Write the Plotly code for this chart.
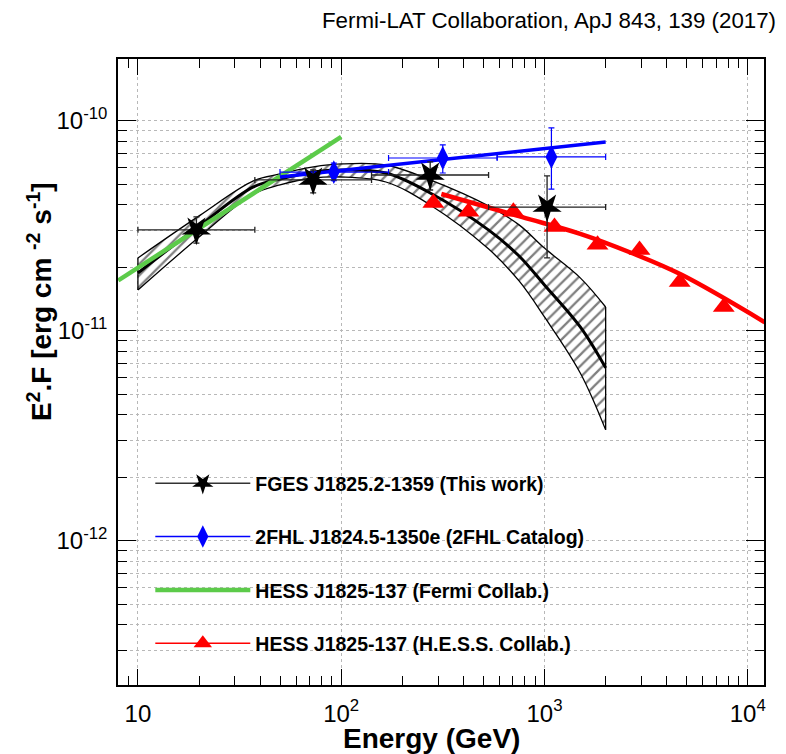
import plotly.graph_objects as go

# ---------------- data ----------------
# FGES J1825.2-1359 (this work): SED points
fges_E = [19.4, 72.8, 274, 1030]
fges_Elo = [10, 37.6, 141, 531]
fges_Ehi = [37.6, 141, 531, 2000]
fges_F = [3.03e-11, 5.24e-11, 5.53e-11, 3.89e-11]
fges_Fhi = [3.49e-11, 5.85e-11, 6.38e-11, 5.47e-11]
fges_Flo = [2.62e-11, 4.54e-11, 4.69e-11, 2.23e-11]

# FGES best-fit log-parabola and its error band
band_E = [10, 20, 37, 50, 73, 100, 166, 274, 530, 750, 1000, 1500, 2000]
band_mid = [1.888e-11, 3.16e-11, 4.85e-11, 5.29e-11, 5.72e-11, 5.84e-11, 5.65e-11, 4.54e-11,
            3.03e-11, 2.275e-11, 1.656e-11, 1.045e-11, 6.67e-12]
band_hi = [2.226e-11, 3.53e-11, 5.18e-11, 5.59e-11, 6.04e-11, 6.24e-11, 6.17e-11, 5.24e-11,
           3.94e-11, 3.20e-11, 2.48e-11, 1.79e-11, 1.30e-11]
band_lo = [1.567e-11, 2.80e-11, 4.49e-11, 4.96e-11, 5.35e-11, 5.41e-11, 5.12e-11, 3.98e-11,
           2.46e-11, 1.73e-11, 1.166e-11, 6.31e-12, 3.38e-12]

# 2FHL J1824.5-1350e
fhl_E = [92, 316, 1082]
fhl_Elo = [50, 171, 585]
fhl_Ehi = [171, 585, 2000]
fhl_F = [5.71e-11, 6.66e-11, 6.74e-11]
fhl_Fhi = [6.30e-11, 7.69e-11, 9.26e-11]
fhl_Flo = [5.20e-11, 5.65e-11, 4.74e-11]
fhlfit_E = [50, 2000]
fhlfit_F = [5.41e-11, 7.94e-11]

# HESS J1825-137 (Fermi Collab.) power law
fermi_E = [8, 100]
fermi_F = [1.74e-11, 8.40e-11]

# HESS J1825-137 (H.E.S.S. Collab.)
hess_E = [284, 423, 703, 1120, 1824, 2936, 4627, 7620]
hess_F = [4.07e-11, 3.69e-11, 3.69e-11, 3.13e-11, 2.57e-11, 2.43e-11, 1.71e-11, 1.30e-11]
hessfit_E = [311, 771, 1500, 2685, 4732, 12130]
hessfit_F = [4.49e-11, 3.49e-11, 2.90e-11, 2.35e-11, 1.85e-11, 1.10e-11]

legend_names = [
    "FGES J1825.2-1359 (This work)",
    "2FHL J1824.5-1350e (2FHL Catalog)",
    "HESS J1825-137 (Fermi Collab.)",
    "HESS J1825-137 (H.E.S.S. Collab.)",
]

x_ticks = [10, 100, 1000, 10000]
x_ticktext = ["10", "10<sup>2</sup>", "10<sup>3</sup>", "10<sup>4</sup>"]
y_ticks = [1e-12, 1e-11, 1e-10]
y_ticktext = ["10<sup>-12</sup>", "10<sup>-11</sup>", "10<sup>-10</sup>"]

BLACK = "#000000"
BLUE = "#0000ff"
GREEN = "#5ccb4a"
RED = "#ff0000"
FONT = "Liberation Sans, Arial, Helvetica, sans-serif"

fig = go.Figure()

# ---- hatched error band ----
fig.add_trace(go.Scatter(x=band_E, y=band_lo, mode="lines", line=dict(color=BLACK, width=1.3, shape="spline"),
                         showlegend=False, hoverinfo="skip"))
fig.add_trace(go.Scatter(x=band_E, y=band_hi, mode="lines", line=dict(color=BLACK, width=1.3, shape="spline"),
                         fill="tonexty", fillcolor="rgba(0,0,0,0)",
                         fillpattern=dict(shape="/", fgcolor=BLACK, bgcolor="white", size=8, solidity=0.28),
                         showlegend=False, hoverinfo="skip"))
for i in (0, len(band_E) - 1):
    fig.add_trace(go.Scatter(x=[band_E[i], band_E[i]], y=[band_lo[i], band_hi[i]], mode="lines",
                             line=dict(color=BLACK, width=1.3), showlegend=False, hoverinfo="skip"))
fig.add_trace(go.Scatter(x=band_E, y=band_mid, mode="lines", line=dict(color=BLACK, width=3, shape="spline"),
                         showlegend=False, hoverinfo="skip"))

# ---- model lines ----
fig.add_trace(go.Scatter(x=fermi_E, y=fermi_F, mode="lines", line=dict(color=GREEN, width=4.5),
                         showlegend=False))
fig.add_trace(go.Scatter(x=fhlfit_E, y=fhlfit_F, mode="lines", line=dict(color=BLUE, width=3.5),
                         showlegend=False))
fig.add_trace(go.Scatter(x=hessfit_E, y=hessfit_F, mode="lines", line=dict(color=RED, width=4.5, shape="spline"),
                         showlegend=False))

# ---- data points ----
fig.add_trace(go.Scatter(
    x=hess_E, y=hess_F, mode="markers",
    marker=dict(symbol="triangle-up", size=19, color=RED, line=dict(width=0)),
    showlegend=False))
fig.add_trace(go.Scatter(
    x=fhl_E, y=fhl_F, mode="markers",
    marker=dict(symbol="diamond-tall", size=17, color=BLUE, line=dict(width=0)),
    error_x=dict(type="data", symmetric=False,
                 array=[h - e for h, e in zip(fhl_Ehi, fhl_E)],
                 arrayminus=[e - l for e, l in zip(fhl_E, fhl_Elo)],
                 color=BLUE, thickness=1.2, width=3),
    error_y=dict(type="data", symmetric=False,
                 array=[h - f for h, f in zip(fhl_Fhi, fhl_F)],
                 arrayminus=[f - l for f, l in zip(fhl_F, fhl_Flo)],
                 color=BLUE, thickness=1.2, width=3),
    showlegend=False))
fig.add_trace(go.Scatter(
    x=fges_E, y=fges_F, mode="markers",
    marker=dict(symbol="star", size=22, angle=180, color=BLACK, line=dict(width=0)),
    error_x=dict(type="data", symmetric=False,
                 array=[h - e for h, e in zip(fges_Ehi, fges_E)],
                 arrayminus=[e - l for e, l in zip(fges_E, fges_Elo)],
                 color="#222222", thickness=1.3, width=3),
    error_y=dict(type="data", symmetric=False,
                 array=[h - f for h, f in zip(fges_Fhi, fges_F)],
                 arrayminus=[f - l for f, l in zip(fges_F, fges_Flo)],
                 color="#222222", thickness=1.3, width=3),
    showlegend=False))

# ---- legend entries ----
leg_styles = [
    dict(mode="lines+markers", line=dict(color="#333333", width=1.5),
         marker=dict(symbol="star", size=22, angle=180, color=BLACK)),
    dict(mode="lines+markers", line=dict(color=BLUE, width=1.5),
         marker=dict(symbol="diamond-tall", size=17, color=BLUE)),
    dict(mode="lines", line=dict(color=GREEN, width=4.5)),
    dict(mode="lines+markers", line=dict(color=RED, width=1.5),
         marker=dict(symbol="triangle-up", size=19, color=RED)),
]
for i, (name, st) in enumerate(zip(legend_names, leg_styles)):
    fig.add_trace(go.Scatter(x=[None], y=[None], name=name, legendgroup=f"g{i}", showlegend=True, **st))

# white legend box hiding the grid
fig.add_shape(type="rect", xref="paper", yref="paper", x0=0.029, x1=0.816, y0=0.021, y1=0.364,
              fillcolor="white", line=dict(width=0), layer="below")

grid_col = "#b8b8b8"
axis_common = dict(
    type="log", showline=True, linecolor=BLACK, linewidth=1.5, mirror="allticks",
    ticks="inside", tickcolor=BLACK, tickwidth=1.2,
    showgrid=True, gridcolor=grid_col, griddash="dot", gridwidth=1,
    zeroline=False, tickfont=dict(family=FONT, size=24, color=BLACK),
)

fig.update_xaxes(
    **axis_common,
    range=[0.902, 4.080],
    tickvals=x_ticks, ticktext=x_ticktext, ticklen=16, ticklabelstandoff=6,
    minor=dict(ticks="inside", ticklen=9, tickcolor=BLACK, tickwidth=1.2, dtick="D1", showgrid=False),
)
fig.update_yaxes(
    **axis_common,
    range=[-12.686, -9.705],
    tickvals=y_ticks, ticktext=y_ticktext, ticklen=18, ticklabelstandoff=4,
    minor=dict(ticks="inside", ticklen=9, tickcolor=BLACK, tickwidth=1.2, dtick="D1",
               showgrid=True, gridcolor=grid_col, griddash="dot", gridwidth=1),
)

fig.update_layout(
    width=786, height=754,
    margin=dict(l=118, r=22, t=59, b=69),
    paper_bgcolor="white", plot_bgcolor="white",
    font=dict(family=FONT, color=BLACK),
    showlegend=True,
    legend=dict(x=0.050, y=0.353, xanchor="left", yanchor="top",
                bgcolor="rgba(0,0,0,0)", borderwidth=0,
                font=dict(family=FONT, size=19.5, color=BLACK, weight="bold"),
                itemwidth=95, tracegroupgap=25, traceorder="grouped"),
    annotations=[
        dict(text="Fermi-LAT Collaboration, ApJ 843, 139 (2017)", xref="paper", yref="paper",
             x=1.021, y=1.062, xanchor="right", yanchor="middle", showarrow=False,
             font=dict(family=FONT, size=22.3, color=BLACK)),
        dict(text="Energy (GeV)", xref="paper", yref="paper",
             x=0.486, y=-0.085, xanchor="center", yanchor="middle", showarrow=False,
             font=dict(family=FONT, size=28, color=BLACK, weight="bold")),
        dict(text="E<sup>2</sup>.F [erg cm <sup>-2</sup> s<sup>-1</sup>]", xref="paper", yref="paper",
             x=-0.121, y=0.613, xanchor="center", yanchor="middle", textangle=-90, showarrow=False,
             font=dict(family=FONT, size=28, color=BLACK, weight="bold")),
    ],
)

fig.write_html("out.html")
